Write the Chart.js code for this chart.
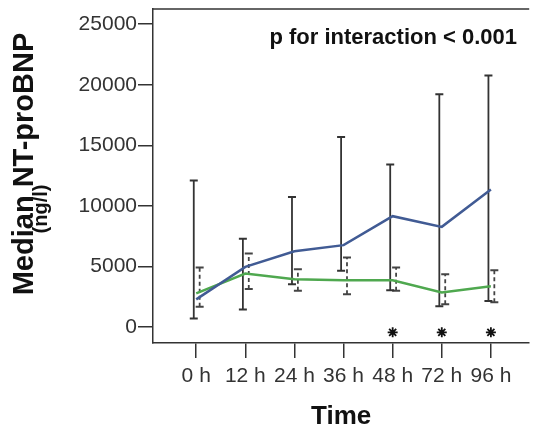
<!DOCTYPE html>
<html lang="en">
<head>
  <meta charset="UTF-8" />
  <title>Median NT-proBNP over time</title>
  <script src="https://cdn.jsdelivr.net/npm/chart.js"></script>
  <style>
    html, body { margin: 0; padding: 0; background: #fff; }
    #wrap { width: 536px; height: 428px; }
  </style>
</head>
<body>
  <div id="wrap"><canvas id="chart" width="536" height="428"></canvas></div>

  <script>
    // categories and values
    const timeLabels = ['0 h', '12 h', '24 h', '36 h', '48 h', '72 h', '96 h'];

    // blue group, median with solid range bars
    const blueMedian = [2300, 4980, 6270, 6770, 9160, 8280, 11360];
    const blueHigh   = [12100, 7290, 10750, 15700, 13420, 19220, 20760];
    const blueLow    = [720, 1460, 3550, 4650, 3050, 1730, 2170];

    // green group, median with dashed range bars
    const greenMedian = [2800, 4430, 3960, 3880, 3880, 2860, 3380];
    const greenHigh   = [4925, 6080, 4785, 5750, 4925, 4370, 4700];
    const greenLow    = [1680, 3160, 3000, 2720, 3000, 1900, 2060];

    // time points marked with an asterisk
    const starred = ['48 h', '72 h', '96 h'];
    const starLevel = -420;

    const yTicks = [0, 5000, 10000, 15000, 20000, 25000];
    const note = 'p for interaction < 0.001';

    const BLUE = '#415b94';
    const GREEN = '#4fa84f';
    const BAR = '#333';
    const FONT = '"Liberation Sans", Arial, sans-serif';

    function medianPoints(vals) {
      return vals.map((v, i) => ({ x: i, y: v }));
    }

    // each bar is two points joined by the line, split by a null gap
    function rangePoints(lo, hi, shift) {
      const pts = [];
      lo.forEach((v, i) => {
        pts.push({ x: i + shift, y: v });
        pts.push({ x: i + shift, y: hi[i] });
        pts.push({ x: i + shift, y: null });
      });
      return pts;
    }

    const starPoints = starred.map(t => ({ x: timeLabels.indexOf(t), y: starLevel }));

    const extras = {
      id: 'extras',
      afterDraw(chart) {
        const { ctx, chartArea } = chart;
        ctx.save();
        // top edge of the box
        ctx.strokeStyle = BAR;
        ctx.lineWidth = 1.5;
        ctx.beginPath();
        ctx.moveTo(chartArea.left, chartArea.top);
        ctx.lineTo(chartArea.right, chartArea.top);
        ctx.stroke();

        ctx.fillStyle = '#111';
        ctx.font = 'bold 22px ' + FONT;
        ctx.textAlign = 'right';
        ctx.textBaseline = 'alphabetic';
        ctx.fillText(note, 517, 44);

        // y title, two lines
        ctx.save();
        ctx.translate(33, 164);
        ctx.rotate(-Math.PI / 2);
        ctx.textAlign = 'center';
        ctx.font = 'bold 29px ' + FONT;
        ctx.fillText('Median NT-proBNP', 0, 0);
        ctx.restore();
        ctx.save();
        ctx.translate(47, 209);
        ctx.rotate(-Math.PI / 2);
        ctx.textAlign = 'center';
        ctx.font = 'bold 20px ' + FONT;
        ctx.fillText('(ng/l)', 0, 0);
        ctx.restore();
        ctx.restore();
      }
    };

    new Chart(document.getElementById('chart'), {
      type: 'line',
      data: {
        datasets: [
          { data: medianPoints(blueMedian), borderColor: BLUE, borderWidth: 2.5, pointRadius: 0, tension: 0 },
          { data: medianPoints(greenMedian), borderColor: GREEN, borderWidth: 2.5, pointRadius: 0, tension: 0 },
          { data: rangePoints(blueLow, blueHigh, -0.05), borderColor: BAR, borderWidth: 1.8,
            pointStyle: 'line', pointRadius: 4, pointBorderColor: BAR, pointBorderWidth: 2, spanGaps: false },
          { data: rangePoints(greenLow, greenHigh, 0.07), borderColor: '#444', borderWidth: 1.8, borderDash: [4, 3],
            pointStyle: 'line', pointRadius: 4, pointBorderColor: '#444', pointBorderWidth: 2, spanGaps: false },
          { data: starPoints, showLine: false, pointStyle: 'star', pointRadius: 5,
            pointBorderColor: '#111', pointBorderWidth: 1.8 }
        ]
      },
      options: {
        responsive: false,
        animation: false,
        layout: { padding: { top: 9, left: 0, right: 0, bottom: 0 } },
        plugins: { legend: { display: false }, tooltip: { enabled: false } },
        scales: {
          x: {
            type: 'linear',
            min: -0.88,
            max: 6.78,
            afterBuildTicks: s => { s.ticks = timeLabels.map((t, i) => ({ value: i })); },
            afterFit: s => { s.height = 85; s.paddingLeft = 0; s.paddingRight = 0; },
            ticks: {
              callback: v => timeLabels[v],
              color: '#333',
              font: { family: FONT, size: 21 },
              padding: 6,
              maxRotation: 0
            },
            grid: { drawOnChartArea: false, drawTicks: true, tickLength: 15, color: BAR, lineWidth: 1.5 },
            border: { display: true, color: BAR, width: 1.5 },
            title: {
              display: true,
              text: 'Time',
              color: '#111',
              font: { family: FONT, size: 26, weight: 'bold' },
              padding: { top: 0, bottom: -4 }
            }
          },
          y: {
            type: 'linear',
            min: -1300,
            max: 26250,
            afterBuildTicks: s => { s.ticks = yTicks.map(v => ({ value: v })); },
            afterFit: s => { s.width = 153; s.paddingTop = 0; s.paddingBottom = 0; },
            ticks: {
              callback: v => String(v),
              color: '#333',
              font: { family: FONT, size: 21 },
              padding: 1
            },
            grid: { drawOnChartArea: false, drawTicks: true, tickLength: 15, color: BAR, lineWidth: 1.5 },
            border: { display: true, color: BAR, width: 1.5 }
          }
        }
      },
      plugins: [extras]
    });
  </script>
</body>
</html>
